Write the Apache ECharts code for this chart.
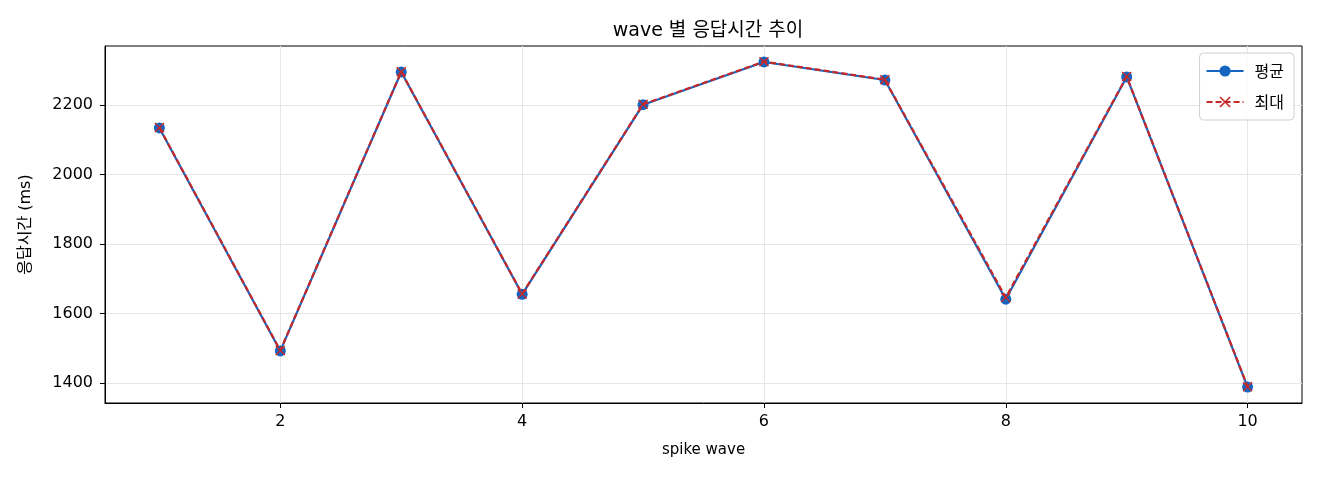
<!DOCTYPE html>
<html>
<head>
<meta charset="utf-8">
<script src="https://cdn.jsdelivr.net/npm/echarts@6/dist/echarts.min.js"></script>
<style>
  html, body { margin: 0; padding: 0; background: #fff; }
  #chart { width: 1320px; height: 480px; }
</style>
</head>
<body>
<div id="chart"></div>
<script>
var waves = [1, 2, 3, 4, 5, 6, 7, 8, 9, 10];
var avgMs = [2134, 1492, 2295, 1655, 2201, 2324, 2272, 1641, 2281, 1388];
var maxMs = [2135, 1493, 2296, 1656, 2202, 2325, 2273, 1646, 2282, 1389];
var xTicks = [2, 4, 6, 8, 10];
var yTicks = [1400, 1600, 1800, 2000, 2200];

var FONT = '"DejaVu Sans", "Noto Sans CJK KR", sans-serif';
var BLUE = '#1565C0';
var RED = '#C62828';
var CROSS = 'path://M0,1L1,0L5,4L9,0L10,1L6,5L10,9L9,10L5,6L1,10L0,9L4,5Z';

function pairs(xs, ys) {
  var out = [];
  for (var i = 0; i < xs.length; i++) out.push([xs[i], ys[i]]);
  return out;
}

var chart = echarts.init(document.getElementById('chart'));
var option = {
  animation: false,
  textStyle: { fontFamily: FONT },
  title: {
    text: 'wave 별 응답시간 추이',
    left: 703, top: 17, textAlign: 'center',
    textStyle: { fontFamily: FONT, fontSize: 19, fontWeight: 'normal', color: '#000' }
  },
  legend: {
    orient: 'vertical', right: 26, top: 53,
    itemWidth: 37, itemHeight: 14, itemGap: 15,
    padding: [10, 10, 10, 6],
    borderColor: '#d0d0d0', borderWidth: 1, borderRadius: 4,
    backgroundColor: 'rgba(255,255,255,0.85)',
    textStyle: { fontFamily: '"Noto Sans CJK KR", sans-serif', fontSize: 16, color: '#000', padding: [0, 0, 0, 6] },
    data: ['평균', '최대']
  },
  grid: { left: 105, right: 18, top: 46, bottom: 77, show: true, borderColor: '#000', borderWidth: 1 },
  xAxis: {
    type: 'value', min: 0.55, max: 10.45,
    name: 'spike wave', nameLocation: 'middle', nameGap: 40,
    nameTextStyle: { fontFamily: FONT, fontSize: 15, color: '#000' },
    axisLine: { show: true, lineStyle: { color: '#000' } },
    axisTick: { show: true, customValues: xTicks, length: 5, lineStyle: { color: '#000' } },
    axisLabel: { customValues: xTicks, fontSize: 16, color: '#000', margin: 11 },
    splitLine: { show: true, lineStyle: { color: '#e6e6e6' } }
  },
  yAxis: {
    type: 'value', min: 1342, max: 2370,
    name: '응답시간 (ms)', nameLocation: 'middle', nameGap: 71,
    nameTextStyle: { fontFamily: FONT, fontSize: 16, color: '#000' },
    axisLine: { show: true, lineStyle: { color: '#000' } },
    axisTick: { show: true, customValues: yTicks, length: 5, lineStyle: { color: '#000' } },
    axisLabel: {
      customValues: yTicks, fontSize: 16, color: '#000', margin: 12,
      formatter: function (v) { return String(v); }
    },
    splitLine: { show: true, lineStyle: { color: '#e6e6e6' } }
  },
  series: [
    {
      name: '평균', type: 'line', data: pairs(waves, avgMs),
      symbol: 'circle', symbolSize: 11,
      lineStyle: { color: BLUE, width: 2.2 },
      itemStyle: { color: BLUE },
      z: 2
    },
    {
      name: '최대', type: 'line', data: pairs(waves, maxMs),
      symbol: CROSS, symbolSize: 10,
      lineStyle: { color: RED, width: 2.2, type: [6, 3] },
      itemStyle: { color: RED },
      z: 3
    }
  ]
};
chart.setOption(option);
</script>
</body>
</html>
